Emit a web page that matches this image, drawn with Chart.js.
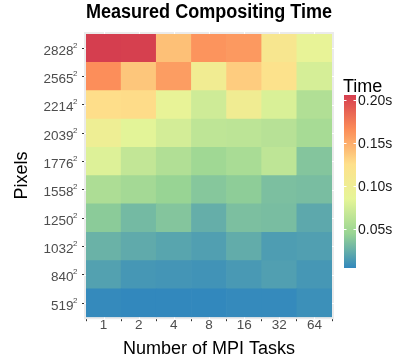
<!DOCTYPE html>
<html>
<head>
<meta charset="utf-8">
<script src="https://cdn.jsdelivr.net/npm/chart.js@4/dist/chart.umd.min.js"></script>
<style>
  html, body { margin: 0; padding: 0; background: #fff; }
  #wrap { width: 396px; height: 360px; position: relative; }
</style>
</head>
<body>
<div id="wrap"><canvas id="heatChart"></canvas></div>
<script>
const taskCounts = ['1', '2', '4', '8', '16', '32', '64'];
const pixelSizes = ['519', '840', '1032', '1250', '1558', '1776', '2039', '2214', '2565', '2828'];

// compositing time (s) per MPI task count, one array per image size
const time519 = [0.005, 0.004, 0.004, 0.004, 0.005, 0.005, 0.008];
const time840 = [0.017, 0.012, 0.011, 0.010, 0.013, 0.016, 0.012];
const time1032 = [0.026, 0.022, 0.019, 0.016, 0.023, 0.015, 0.016];
const time1250 = [0.039, 0.030, 0.036, 0.024, 0.033, 0.032, 0.021];
const time1558 = [0.055, 0.050, 0.044, 0.037, 0.040, 0.033, 0.032];
const time1776 = [0.080, 0.066, 0.057, 0.048, 0.053, 0.064, 0.036];
const time2039 = [0.098, 0.083, 0.075, 0.064, 0.063, 0.060, 0.052];
const time2214 = [0.126, 0.127, 0.088, 0.072, 0.102, 0.078, 0.057];
const time2565 = [0.165, 0.138, 0.158, 0.103, 0.135, 0.122, 0.076];
const time2828 = [0.206, 0.205, 0.141, 0.162, 0.160, 0.113, 0.088];

const timeRows = [time519, time840, time1032, time1250, time1558, time1776, time2039, time2214, time2565, time2828];
const legendTicks = [0.05, 0.10, 0.15, 0.20];

const allTimes = timeRows.flat();
const tMin = Math.min(...allTimes);
const tMax = Math.max(...allTimes);

// brewer Spectral (6), low to high
const spectral = ['#3288BD', '#99D594', '#E6F598', '#FEE08B', '#FC8D59', '#D53E4F'];
function hexRgb(h) {
  return [parseInt(h.slice(1, 3), 16), parseInt(h.slice(3, 5), 16), parseInt(h.slice(5, 7), 16)];
}
function timeColor(v) {
  let t = (v - tMin) / (tMax - tMin);
  t = Math.max(0, Math.min(1, t));
  const pos = t * (spectral.length - 1);
  const i = Math.min(Math.floor(pos), spectral.length - 2);
  const f = pos - i;
  const a = hexRgb(spectral[i]), b = hexRgb(spectral[i + 1]);
  const c = a.map((x, k) => Math.round(x + (b[k] - x) * f));
  return 'rgb(' + c.join(',') + ')';
}

const FONT = '"Liberation Sans", Arial, sans-serif';

const datasets = timeRows.map((row, i) => ({
  label: pixelSizes[i],
  data: row.map(() => 1),
  backgroundColor: row.map(timeColor),
  borderWidth: 0,
  barPercentage: 1,
  categoryPercentage: 1
}));

// grey panel with white grid lines peeking out round the tiles
const panelBg = {
  id: 'panelBg',
  beforeDatasetsDraw(chart) {
    const a = chart.chartArea;
    const c = chart.ctx;
    const l = a.left - 2, r = a.right + 2, t = a.top - 2, b = a.bottom + 2;
    c.save();
    c.fillStyle = '#EBEBEB';
    c.fillRect(l, t, r - l, b - t);
    c.strokeStyle = '#fff';
    c.lineWidth = 1;
    c.beginPath();
    taskCounts.forEach((_, i) => {
      const x = Math.round(chart.scales.x.getPixelForValue(i)) + 0.5;
      c.moveTo(x, t); c.lineTo(x, b);
    });
    pixelSizes.forEach((_, i) => {
      const y = Math.round(chart.scales.y.getPixelForValue(i + 0.5)) + 0.5;
      c.moveTo(l, y); c.lineTo(r, y);
    });
    c.stroke();
    c.restore();
  }
};

// y tick labels with a raised "2"
const squareLabels = {
  id: 'squareLabels',
  afterDraw(chart) {
    const c = chart.ctx;
    const y = chart.scales.y;
    const right = chart.chartArea.left - 8.5;
    c.save();
    c.fillStyle = '#4d4d4d';
    c.textBaseline = 'alphabetic';
    c.textAlign = 'right';
    c.font = '8px ' + FONT;
    const supW = c.measureText('2').width;
    pixelSizes.forEach((s, i) => {
      const py = y.getPixelForValue(i + 0.5);
      c.font = '8px ' + FONT;
      c.fillText('2', right, py - 0.5);
      c.font = '13.5px ' + FONT;
      c.fillText(s, right - supW + 0.5, py + 6.5);
    });
    c.restore();
  }
};

const colorBar = {
  id: 'colorBar',
  afterDraw(chart) {
    const c = chart.ctx;
    const a = chart.chartArea;
    const x = a.right + 12, w = 12, top = 95, bottom = 268;
    const grad = c.createLinearGradient(0, bottom, 0, top);
    for (let s = 0; s <= 30; s++) {
      grad.addColorStop(s / 30, timeColor(tMin + (tMax - tMin) * s / 30));
    }
    c.save();
    c.fillStyle = grad;
    c.fillRect(x, top, w, bottom - top);
    c.fillStyle = '#000';
    c.font = '18px ' + FONT;
    c.textBaseline = 'alphabetic';
    c.fillText('Time', x - 1, top - 3);
    c.font = '14px ' + FONT;
    c.textBaseline = 'middle';
    c.strokeStyle = '#fff';
    c.lineWidth = 1;
    legendTicks.forEach(v => {
      const y = Math.round(bottom - (v - tMin) / (tMax - tMin) * (bottom - top)) + 0.5;
      c.beginPath();
      c.moveTo(x, y); c.lineTo(x + 2.5, y);
      c.moveTo(x + w - 2.5, y); c.lineTo(x + w, y);
      c.stroke();
      c.fillStyle = '#1a1a1a';
      c.fillText(v.toFixed(2) + 's', x + w + 2, y + 1);
    });
    c.restore();
  }
};

const ctx = document.getElementById('heatChart').getContext('2d');
const heatChart = new Chart(ctx, {
  type: 'bar',
  data: { labels: taskCounts, datasets: datasets },
  plugins: [panelBg, squareLabels, colorBar],
  options: {
    responsive: true,
    maintainAspectRatio: false,
    animation: false,
    layout: { padding: { top: 0, right: 64, left: 0, bottom: 0 } },
    plugins: {
      legend: { display: false },
      tooltip: { enabled: false },
      title: {
        display: true,
        fullSize: false,
        text: 'Measured Compositing Time',
        color: '#000',
        font: { family: FONT, size: 20, weight: 'bold' },
        padding: { top: 0, bottom: 10 }
      }
    },
    scales: {
      x: {
        stacked: true,
        grid: { display: true, drawOnChartArea: false, tickLength: 4, tickColor: '#333' },
        border: { display: false },
        ticks: { color: '#4d4d4d', font: { family: FONT, size: 13.5 }, padding: -4 },
        title: {
          display: true,
          text: 'Number of MPI Tasks',
          color: '#000',
          font: { family: FONT, size: 18 },
          padding: { top: 9, bottom: 0 }
        }
      },
      y: {
        stacked: true,
        min: 0,
        max: pixelSizes.length,
        afterBuildTicks(axis) {
          axis.ticks = pixelSizes.map((_, i) => ({ value: i + 0.5 }));
        },
        afterFit(axis) { axis.width = 86; },
        grid: { display: true, drawOnChartArea: false, tickLength: 4, tickColor: '#333' },
        border: { display: false },
        ticks: { display: false },
        title: {
          display: true,
          text: 'Pixels',
          color: '#000',
          font: { family: FONT, size: 18 },
          padding: { top: 11, bottom: 0 }
        }
      }
    }
  }
});
</script>
</body>
</html>
